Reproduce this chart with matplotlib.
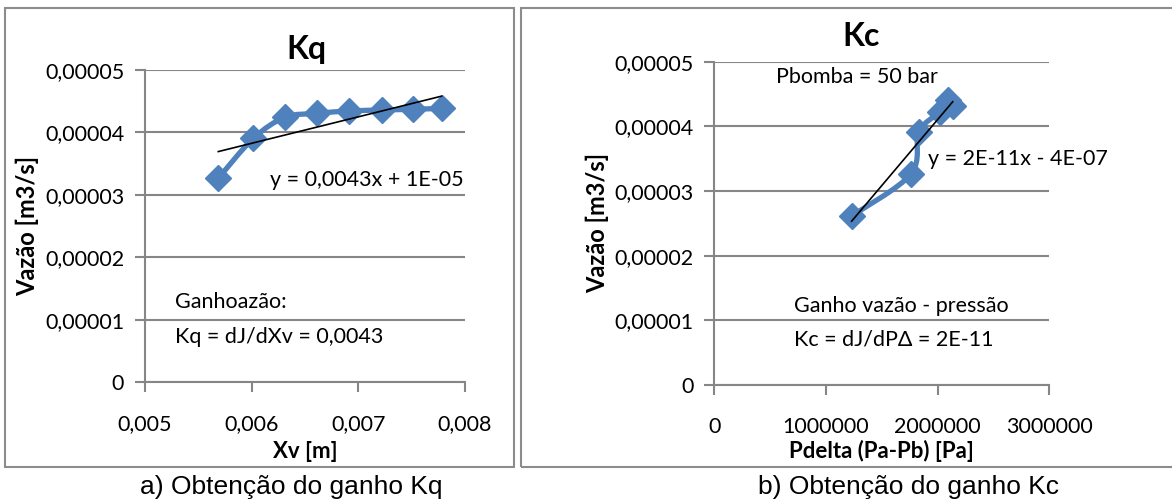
import numpy as np
import matplotlib
matplotlib.use('Agg')
import matplotlib.pyplot as plt
from matplotlib.path import Path
from matplotlib.patches import PathPatch, Rectangle
from matplotlib.ticker import FuncFormatter

# Kq data
xv = [0.005687, 0.006016, 0.006313, 0.006616, 0.006916, 0.007219, 0.007516, 0.007781]
vazao_kq = [3.265e-5, 3.905e-5, 4.242e-5, 4.306e-5, 4.343e-5, 4.359e-5, 4.370e-5, 4.386e-5]

# Kc data
pdelta = [1.230e6, 1.761e6, 1.833e6, 2.021e6, 2.096e6, 2.135e6]
vazao_kc = [2.614e-5, 3.263e-5, 3.918e-5, 4.227e-5, 4.408e-5, 4.315e-5]

yticks = [0, 0.00001, 0.00002, 0.00003, 0.00004, 0.00005]
xticks_kq = [0.005, 0.006, 0.007, 0.008]
xticks_kc = [0, 1000000, 2000000, 3000000]

blue = '#4F81BD'
gray = '#868686'
fam = ['Lato', 'DejaVu Sans']
plt.rcParams['font.family'] = fam
TXT = 15.5


def smooth_line(ax, x, y):
    # excel-like smoothed line (catmull-rom -> bezier)
    p = np.column_stack([x, y])
    n = len(p)
    verts = [p[0]]
    codes = [Path.MOVETO]
    for i in range(n - 1):
        p0 = p[i - 1] if i > 0 else p[i]
        p3 = p[i + 2] if i + 2 < n else p[i + 1]
        c1 = p[i] + (p[i + 1] - p0) / 6
        c2 = p[i + 1] - (p3 - p[i]) / 6
        verts += [c1, c2, p[i + 1]]
        codes += [Path.CURVE4] * 3
    ax.add_patch(PathPatch(Path(verts, codes), fc='none', ec=blue, lw=3.8,
                           capstyle='round', joinstyle='round', zorder=3))
    ax.plot(x, y, ls='none', marker='D', ms=13, color=blue, zorder=4)


def trend(ax, x, y):
    a, b = np.polyfit(x, y, 1)
    xs = np.array([min(x), max(x)])
    ax.plot(xs, a * xs + b, color='black', lw=1.2, zorder=5)


def style(ax, xt, xfmt):
    ax.set_ylim(0, 0.00005)
    ax.set_yticks(yticks)
    ax.set_xticks(xt)
    ax.set_xlim(xt[0], xt[-1])
    ax.yaxis.set_major_formatter(FuncFormatter(
        lambda v, p: '0' if v == 0 else ('%.5f' % v).replace('.', ',')))
    ax.xaxis.set_major_formatter(FuncFormatter(xfmt))
    ax.grid(axis='y', color=gray, lw=1.5)
    ax.set_axisbelow(True)
    for s in ['top', 'right']:
        ax.spines[s].set_visible(False)
    for s in ['left', 'bottom']:
        ax.spines[s].set_color(gray)
        ax.spines[s].set_linewidth(1.5)
    ax.tick_params(axis='both', direction='out', length=7, width=1.5, color=gray,
                   labelsize=TXT)
    ax.tick_params(axis='x', pad=16)
    ax.tick_params(axis='y', pad=8)
    ax.set_ylabel('Vazão [m3/s]', fontsize=17, fontweight='bold', labelpad=4)


fig = plt.figure(figsize=(11.72, 5.03), dpi=100)
W, H = 1172, 503

# panel frames
fig.patches.append(Rectangle((5 / W, 1 - 467 / H), 509 / W, 459 / H, transform=fig.transFigure,
                             fill=False, ec='#8c8c8c', lw=1.5))
fig.patches.append(Rectangle((521 / W, 1 - 467 / H), 660 / W, 459 / H, transform=fig.transFigure,
                             fill=False, ec='#8c8c8c', lw=1.5))

ax1 = fig.add_axes([145 / W, 1 - 382 / H, 320 / W, 312 / H])
style(ax1, xticks_kq, lambda v, p: ('%.3f' % v).replace('.', ','))
smooth_line(ax1, xv, vazao_kq)
trend(ax1, xv, vazao_kq)
ax1.set_xlabel('Xv [m]', fontsize=16, fontweight='bold', va='center')
ax1.xaxis.set_label_coords(0.5, (382 - 451) / 312)
fig.text(306 / W, 1 - 50 / H, 'Kq', fontsize=23, fontweight='bold', ha='center', va='center')
fig.text(270 / W, 1 - 180 / H, 'y = 0,0043x + 1E-05', fontsize=TXT, va='center')
fig.text(175 / W, 1 - 302 / H, 'Ganhoazão:', fontsize=TXT, va='center')
fig.text(175 / W, 1 - 337 / H, 'Kq = dJ/dXv = 0,0043', fontsize=TXT, va='center')

ax2 = fig.add_axes([714.3 / W, 1 - 385 / H, 335 / W, 323.3 / H])
style(ax2, xticks_kc, lambda v, p: '%d' % v)
smooth_line(ax2, pdelta, vazao_kc)
trend(ax2, pdelta, vazao_kc)
ax2.set_xlabel('Pdelta (Pa-Pb) [Pa]', fontsize=16, fontweight='bold', va='center')
ax2.xaxis.set_label_coords(0.5, (385 - 451) / 323.3)
fig.text(861 / W, 1 - 37 / H, 'Kc', fontsize=23, fontweight='bold', ha='center', va='center')
fig.text(776 / W, 1 - 77 / H, 'Pbomba = 50 bar', fontsize=TXT, va='center')
fig.text(928 / W, 1 - 159 / H, 'y = 2E-11x - 4E-07', fontsize=TXT, va='center')
fig.text(794 / W, 1 - 306 / H, 'Ganho vazão - pressão', fontsize=TXT, va='center')
fig.text(794 / W, 1 - 339 / H, 'Kc = dJ/dPΔ = 2E-11', fontsize=TXT, va='center')

fig.text(291 / W, 1 - 487 / H, 'a) Obtenção do ganho Kq', fontsize=19,
         family='Liberation Sans', ha='center', va='center')
fig.text(908 / W, 1 - 487 / H, 'b) Obtenção do ganho Kc', fontsize=19,
         family='Liberation Sans', ha='center', va='center')

fig.savefig('out.png', dpi=100)
